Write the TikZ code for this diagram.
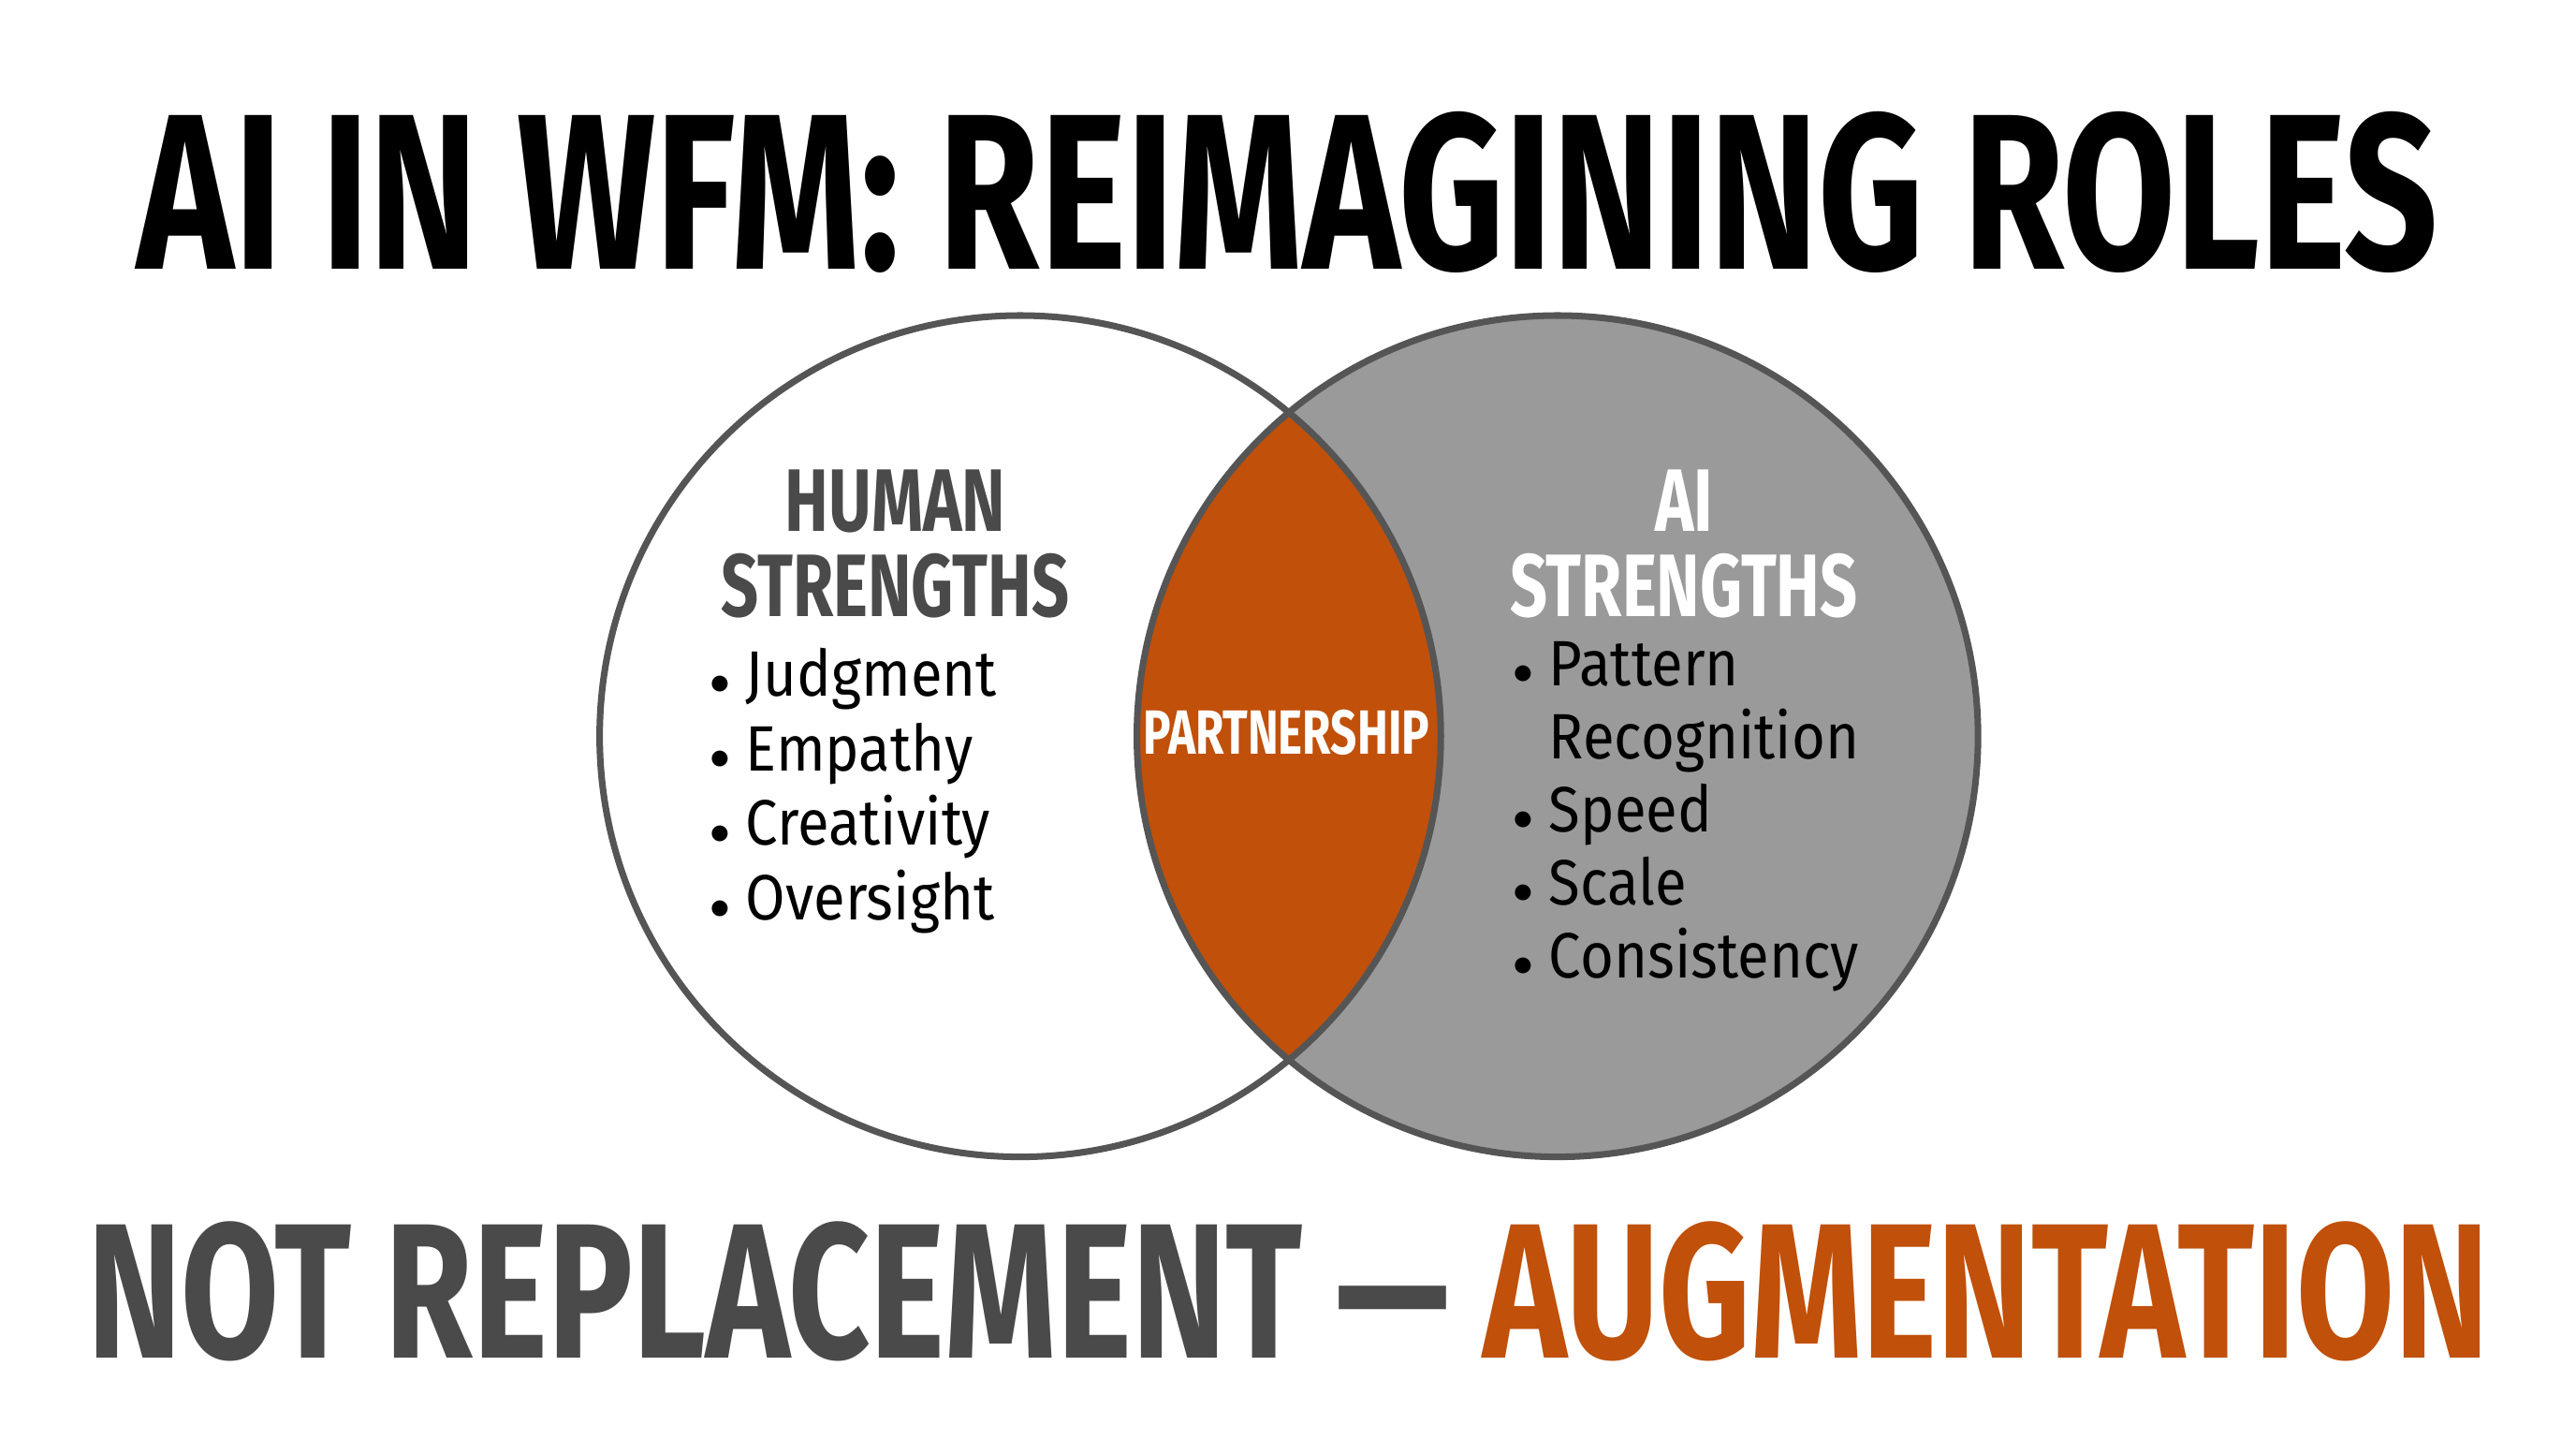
\documentclass[tikz,border=0pt]{standalone}
\usepackage{fontspec}
\setmainfont{Fira Sans}
\newfontfamily\headfont[FakeStretch=0.74]{Fira Sans Bold}
\newfontfamily\itemfont[FakeStretch=0.9]{Fira Sans}
\definecolor{wfmorange}{HTML}{C0500A}
\definecolor{wfmgrey}{HTML}{9A9A9A}
\definecolor{wfmdark}{HTML}{4A4A4A}
\definecolor{wfmline}{HTML}{555555}
\newcommand{\itembul}{{\fontsize{30}{30}\selectfont\raisebox{1pt}{$\bullet$}}\ }
\tikzset{
  headline/.style={font=\headfont\fontsize{135}{135}\selectfont, inner sep=0pt},
  heading/.style={font=\headfont\fontsize{54}{52}\selectfont, align=center, inner sep=0pt},
  bullets/.style={font=\itemfont\fontsize{39}{45.5}\selectfont, align=left, anchor=north west, inner sep=0pt},
}
\begin{document}
\begin{tikzpicture}[x=1pt,y=-1pt]
  \useasboundingbox[fill=white] (0,0) rectangle (1568,876);
  % circles
  \fill[wfmgrey] (948,448) circle (256);
  \begin{scope}
    \clip (621,448) circle (256);
    \fill[wfmorange] (948,448) circle (256);
  \end{scope}
  \draw[wfmline, line width=4pt] (621,448) circle (256);
  \draw[wfmline, line width=4pt] (948,448) circle (256);
  % titles
  \node[headline] (title) at (784,117) {AI IN WFM: REIMAGINING ROLES};
  \node[headline, font=\headfont\fontsize{117}{117}\selectfont] (motto) at (784,786)
    {\textcolor{wfmdark}{NOT REPLACEMENT — }\textcolor{wfmorange}{AUGMENTATION}};
  % left side
  \node[heading, text=wfmdark] (human) at (545,331) {HUMAN\\STRENGTHS};
  \node[bullets, text=black] (humanlist) at (432,394)
    {\itembul Judgment\\\itembul Empathy\\\itembul Creativity\\\itembul Oversight};
  % middle
  \node[heading, text=white, font=\headfont\fontsize{38}{38}\selectfont] (partner) at (783,446) {PARTNERSHIP};
  % right side
  \node[heading, text=white] (ai) at (1025,331) {AI\\STRENGTHS};
  \node[bullets, text=black, font=\itemfont\fontsize{39}{44.5}\selectfont] (ailist) at (921,390)
    {\itembul Pattern\\\phantom{\itembul}Recognition\\\itembul Speed\\\itembul Scale\\\itembul Consistency};
\end{tikzpicture}
\end{document}
